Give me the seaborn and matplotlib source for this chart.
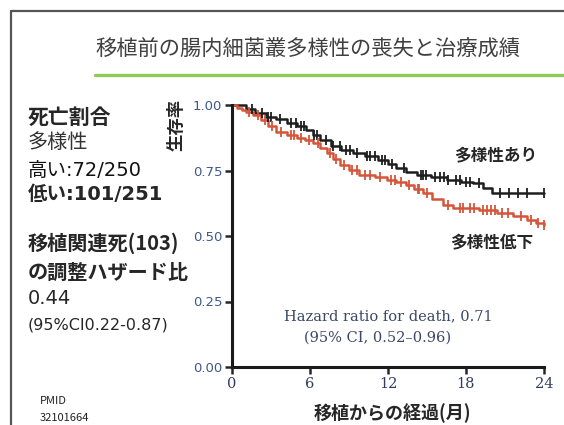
import numpy as np
import pandas as pd
import matplotlib
matplotlib.use("Agg")
import matplotlib.pyplot as plt
import seaborn as sns

# Kaplan-Meier curves (months, survival)
high_t = [0, 1.1, 1.8, 2.6, 3.4, 4.2, 5.0, 5.7, 6.2, 6.8, 7.6, 8.4, 9.3, 10.2, 11.2, 12.0, 12.6, 13.4, 14.2, 15.3, 16.5, 17.6, 18.5, 19.3, 20.0, 24.0]
high_s = [1.0, 0.985, 0.97, 0.955, 0.945, 0.93, 0.918, 0.905, 0.885, 0.866, 0.845, 0.828, 0.816, 0.806, 0.79, 0.775, 0.76, 0.745, 0.733, 0.725, 0.714, 0.708, 0.702, 0.685, 0.664, 0.664]
high_cens = [1.5, 2.3, 2.8, 3.0, 3.7, 4.5, 4.9, 5.3, 5.5, 6.3, 6.5, 7.2, 7.8, 8.3, 8.8, 9.1, 9.6, 10.4, 10.6, 11.0, 11.5, 11.8, 12.3, 13.2, 14.5, 14.7, 14.9, 15.6, 16.0, 16.3, 16.6, 17.2, 17.5, 18.0, 18.3, 19.0, 20.6, 21.3, 22.0, 22.7, 24.0]

low_t = [0, 0.4, 0.8, 1.1, 1.6, 2.2, 2.8, 3.4, 4.2, 5.0, 5.6, 6.2, 6.8, 7.3, 7.8, 8.3, 9.0, 9.8, 11.0, 11.9, 12.6, 13.4, 14.0, 14.7, 15.4, 16.2, 17.0, 19.0, 20.4, 21.6, 22.7, 23.4, 24.0]
low_s = [1.0, 0.99, 0.982, 0.975, 0.96, 0.943, 0.92, 0.898, 0.885, 0.873, 0.865, 0.855, 0.835, 0.816, 0.795, 0.771, 0.752, 0.733, 0.725, 0.714, 0.705, 0.695, 0.68, 0.663, 0.64, 0.618, 0.607, 0.6, 0.588, 0.575, 0.561, 0.55, 0.542]
low_cens = [1.3, 2.0, 2.5, 3.1, 3.8, 4.5, 4.8, 5.3, 5.9, 6.6, 7.5, 8.0, 8.6, 9.2, 9.6, 10.2, 10.6, 11.4, 12.2, 12.5, 13.0, 13.6, 14.3, 14.4, 15.0, 16.6, 17.5, 17.8, 18.3, 18.6, 19.3, 19.6, 19.9, 20.2, 20.8, 21.2, 22.2, 23.0, 23.5, 24.0]

x_ticks = [0, 6, 12, 18, 24]
y_ticks = [0.0, 0.25, 0.5, 0.75, 1.0]


def surv_at(times, surv, t):
    idx = np.searchsorted(times, t, side="right") - 1
    return surv[idx]


sns.set_style("ticks")
plt.rcParams["font.family"] = ["Noto Sans CJK JP", "DejaVu Sans"]
mixed = ["DejaVu Sans", "Noto Sans CJK JP"]

fig = plt.figure(figsize=(5.64, 4.25), dpi=100)
fig.patch.set_facecolor("white")

# slide frame + title
fig.add_artist(plt.Line2D([11 / 564, 11 / 564], [0, 1 - 11 / 425], color="#555555", lw=1.6))
fig.add_artist(plt.Line2D([11 / 564, 1], [1 - 11 / 425, 1 - 11 / 425], color="#555555", lw=1.6))
fig.text(95 / 564, 1 - 50 / 425, "移植前の腸内細菌叢多様性の喪失と治療成績", fontsize=15.3,
         color="#404040", va="center", ha="left")
fig.add_artist(plt.Line2D([95 / 564, 1], [1 - 75 / 425, 1 - 75 / 425], color="#92c85a", lw=2.4))

ax = fig.add_axes([232 / 564, 1 - 367 / 425, 312 / 564, 262 / 425])

black = "#1e1e1e"
red = "#d4553a"
for t, s, cens, col in [(high_t, high_s, high_cens, black), (low_t, low_s, low_cens, red)]:
    df = pd.DataFrame({"month": t, "surv": s})
    sns.lineplot(data=df, x="month", y="surv", drawstyle="steps-post", color=col,
                 lw=1.8, ax=ax, clip_on=False)
    cdf = pd.DataFrame({"month": cens, "surv": [surv_at(t, s, c) for c in cens]})
    sns.scatterplot(data=cdf, x="month", y="surv", marker="|", s=60, color=col,
                    linewidth=1.3, ax=ax, clip_on=False, zorder=3)

ax.set_xlim(0, 24)
ax.set_ylim(0, 1.0)
ax.set_xticks(x_ticks)
ax.set_yticks(y_ticks)
ax.set_xticklabels([str(v) for v in x_ticks], fontfamily="DejaVu Serif", color="#2f3d5c", fontsize=10.5)
ax.set_yticklabels([f"{v:.2f}" for v in y_ticks], fontfamily="DejaVu Sans", color="#3d5a8a", fontsize=9.5)
sns.despine(ax=ax)
for sp in ["left", "bottom"]:
    ax.spines[sp].set_linewidth(2.2)
    ax.spines[sp].set_color("#1a1a1a")
ax.tick_params(axis="both", width=1.8, length=5, pad=2)
ax.set_xlabel("")
ax.set_ylabel("")

fig.text(392 / 564, 1 - 413 / 425, "移植からの経過(月)", fontsize=13, fontweight="bold",
         ha="center", va="center")
fig.text(176 / 564, 1 - 125 / 425, "生存率", fontsize=12.5, fontweight="bold",
         ha="center", va="center", rotation=90)

ax.text(496 / 564, 1 - 155 / 425, "多様性あり", transform=fig.transFigure, fontsize=12,
        fontweight="bold", ha="center", va="center")
ax.text(492 / 564, 1 - 243 / 425, "多様性低下", transform=fig.transFigure, fontsize=12,
        fontweight="bold", ha="center", va="center")
ax.text(388 / 564, 1 - 316 / 425, "Hazard ratio for death, 0.71", transform=fig.transFigure,
        fontsize=10.5, fontfamily="DejaVu Serif", color="#3a4766", ha="center", va="center")
ax.text(378 / 564, 1 - 338 / 425, "(95% CI, 0.52–0.96)", transform=fig.transFigure,
        fontsize=10.5, fontfamily="DejaVu Serif", color="#3a4766", ha="center", va="center")

# left-side notes
left = 28 / 564
fig.text(left, 1 - 117 / 425, "死亡割合", fontsize=15, fontweight="bold", va="center")
fig.text(left, 1 - 143 / 425, "多様性", fontsize=14.5, color="#333333", va="center")
fig.text(left, 1 - 170 / 425, "高い:72/250", fontsize=14, color="#111111", va="center",
         family=mixed)
fig.text(left, 1 - 195 / 425, "低い:101/251", fontsize=14, fontweight="bold", va="center",
         family=mixed)
fig.text(left, 1 - 243 / 425, "移植関連死(103)", fontsize=14.5, fontweight="bold", va="center")
fig.text(left, 1 - 272 / 425, "の調整ハザード比", fontsize=14.5, fontweight="bold", va="center")
fig.text(left, 1 - 298 / 425, "0.44", fontsize=14, va="center", family=mixed)
fig.text(left, 1 - 325 / 425, "(95%CI0.22-0.87)", fontsize=11.5, va="center", family=mixed)
fig.text(40 / 564, 1 - 401 / 425, "PMID", fontsize=8, va="center", color="#222222")
fig.text(40 / 564, 1 - 418 / 425, "32101664", fontsize=8, va="center", color="#222222")

fig.savefig("out.png", dpi=100)
